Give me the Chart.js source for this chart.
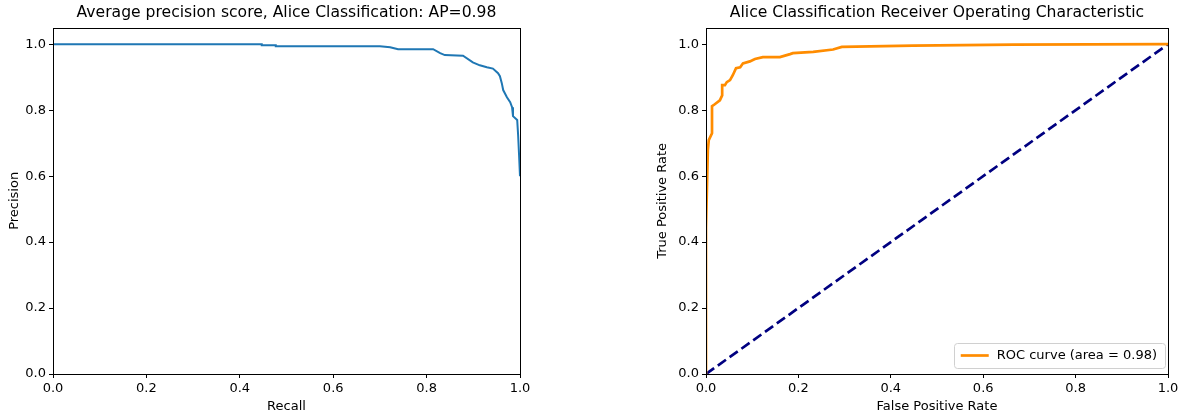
<!DOCTYPE html>
<html>
<head>
<meta charset="utf-8">
<script src="https://cdn.jsdelivr.net/npm/chart.js@4.4.1/dist/chart.umd.min.js"></script>
<style>
  html, body { margin: 0; padding: 0; background: #fff; }
  body { width: 1183px; height: 418px; position: relative; overflow: hidden; }
  .box { position: absolute; top: 0; height: 418px; }
  #prBox { left: 0; width: 540px; }
  #rocBox { left: 648px; width: 535px; }
</style>
</head>
<body>
<div class="box" id="prBox"><canvas id="prChart"></canvas></div>
<div class="box" id="rocBox"><canvas id="rocChart"></canvas></div>
<script>
// ==============================
// Data
// ==============================
const recall = [0, 0.447, 0.447, 0.477, 0.477, 0.700, 0.722, 0.739, 0.814, 0.829, 0.839, 0.878, 0.899, 0.914,
    0.929, 0.942, 0.953, 0.957, 0.961, 0.964, 0.972, 0.979, 0.983, 0.985, 0.994, 0.996, 0.998, 1.0];
const precision = [1.0, 1.0, 0.997, 0.997, 0.994, 0.994, 0.991, 0.985, 0.985, 0.973, 0.967, 0.965, 0.945, 0.936,
    0.930, 0.926, 0.912, 0.903, 0.882, 0.861, 0.839, 0.824, 0.809, 0.782, 0.770, 0.724, 0.664, 0.600];

const fpr = [0, 0, 0.004, 0.006, 0.013, 0.013, 0.019, 0.030, 0.035, 0.035, 0.041, 0.045, 0.052, 0.058, 0.065,
    0.074, 0.080, 0.095, 0.106, 0.123, 0.160, 0.182, 0.188, 0.232, 0.275, 0.294, 0.448, 0.665, 1.0];
const tpr = [0, 0.442, 0.679, 0.709, 0.730, 0.812, 0.818, 0.830, 0.845, 0.876, 0.876, 0.885, 0.891, 0.906, 0.927,
    0.930, 0.942, 0.948, 0.955, 0.961, 0.961, 0.970, 0.973, 0.977, 0.984, 0.992, 0.996, 0.999, 1.0];

const chanceX = [0, 1];
const chanceY = [0, 1];

const xTicks = [0, 0.2, 0.4, 0.6, 0.8, 1.0];
const yTicks = [0, 0.2, 0.4, 0.6, 0.8, 1.0];

const rocLabel = 'ROC curve (area = 0.98)';

// ==============================
// Shared helpers
// ==============================
const FONT = "'DejaVu Sans', sans-serif";
Chart.defaults.font.family = FONT;
Chart.defaults.color = '#000';
Chart.defaults.animation = false;

const toPoints = (xs, ys) => xs.map((x, i) => ({ x: x, y: ys[i] }));

// full box around the plot, drawn over the data like matplotlib spines
const framePlugin = {
    id: 'frame',
    afterDatasetsDraw(chart) {
        const { ctx, chartArea: a } = chart;
        ctx.save();
        ctx.strokeStyle = '#000';
        ctx.lineWidth = 1;
        ctx.strokeRect(Math.round(a.left) + 0.5, Math.round(a.top) + 0.5,
            Math.round(a.right - a.left), Math.round(a.bottom - a.top));
        ctx.restore();
    }
};

function axes(yWidth, xTitle, yTitle) {
    const common = {
        type: 'linear',
        min: 0,
        grid: { drawOnChartArea: false, drawTicks: true, tickLength: 4, color: '#000' },
        border: { display: false },
        ticks: { font: { size: 13 }, color: '#000', padding: 3, callback: v => v.toFixed(1) }
    };
    return {
        x: {
            ...common,
            max: 1,
            afterBuildTicks: s => { s.ticks = xTicks.map(v => ({ value: v })); },
            afterFit: s => { s.height = 44; },
            title: { display: true, text: xTitle, font: { size: 13 }, padding: { top: 0, bottom: 4 } }
        },
        y: {
            ...common,
            max: 1.05,
            afterBuildTicks: s => { s.ticks = yTicks.map(v => ({ value: v })); },
            afterFit: s => { s.width = yWidth; },
            title: { display: true, text: yTitle, font: { size: 13 }, padding: { top: 7, bottom: 0 } }
        }
    };
}

function titleOpts(text) {
    return {
        display: true, text: text, fullSize: false, color: '#000',
        font: { size: 15.6, weight: 'normal' }, padding: { top: 4, bottom: 5 }
    };
}

// ==============================
// Precision / Recall chart
// ==============================
new Chart(document.getElementById('prChart'), {
    type: 'scatter',
    data: {
        datasets: [{
            label: 'Precision-Recall',
            data: toPoints(recall, precision),
            showLine: true,
            borderColor: '#1f77b4',
            borderWidth: 2,
            pointRadius: 0,
            tension: 0
        }]
    },
    options: {
        responsive: true,
        maintainAspectRatio: false,
        layout: { padding: { right: 20, left: 0, top: 0, bottom: 0 } },
        scales: axes(53, 'Recall', 'Precision'),
        plugins: {
            legend: { display: false },
            tooltip: { enabled: false },
            title: titleOpts('Average precision score, Alice Classification: AP=0.98')
        }
    },
    plugins: [framePlugin]
});

// ==============================
// ROC chart
// ==============================
const rocLegend = {
    id: 'rocLegend',
    afterDraw(chart) {
        const { ctx, chartArea: a } = chart;
        ctx.save();
        ctx.font = '13px ' + FONT;
        const tw = ctx.measureText(rocLabel).width;
        const w = 8 + 28 + 8 + tw + 7, h = 25;
        const x0 = a.right - 3 - w, y0 = a.bottom - 6 - h;
        ctx.fillStyle = 'rgba(255,255,255,0.8)';
        ctx.strokeStyle = '#d0d0d0';
        ctx.lineWidth = 1;
        ctx.beginPath();
        ctx.roundRect(Math.round(x0) + 0.5, Math.round(y0) + 0.5, Math.round(w), h, 3);
        ctx.fill();
        ctx.stroke();
        const cy = y0 + h / 2;
        ctx.strokeStyle = '#ff8c00';
        ctx.lineWidth = 2.7;
        ctx.beginPath();
        ctx.moveTo(x0 + 7, cy);
        ctx.lineTo(x0 + 35, cy);
        ctx.stroke();
        ctx.fillStyle = '#000';
        ctx.textBaseline = 'middle';
        ctx.fillText(rocLabel, x0 + 43, cy + 0.5);
        ctx.restore();
    }
};

new Chart(document.getElementById('rocChart'), {
    type: 'scatter',
    data: {
        datasets: [{
            label: rocLabel,
            data: toPoints(fpr, tpr),
            showLine: true,
            borderColor: '#ff8c00',
            borderWidth: 2.7,
            pointRadius: 0,
            tension: 0
        }, {
            label: 'chance',
            data: toPoints(chanceX, chanceY),
            showLine: true,
            borderColor: '#000080',
            borderWidth: 2.7,
            borderDash: [10, 4.5],
            pointRadius: 0
        }]
    },
    options: {
        responsive: true,
        maintainAspectRatio: false,
        layout: { padding: { right: 15, left: 0, top: 0, bottom: 0 } },
        scales: axes(58, 'False Positive Rate', 'True Positive Rate'),
        plugins: {
            legend: { display: false },
            tooltip: { enabled: false },
            title: titleOpts('Alice Classification Receiver Operating Characteristic')
        }
    },
    plugins: [framePlugin, rocLegend]
});
</script>
</body>
</html>
